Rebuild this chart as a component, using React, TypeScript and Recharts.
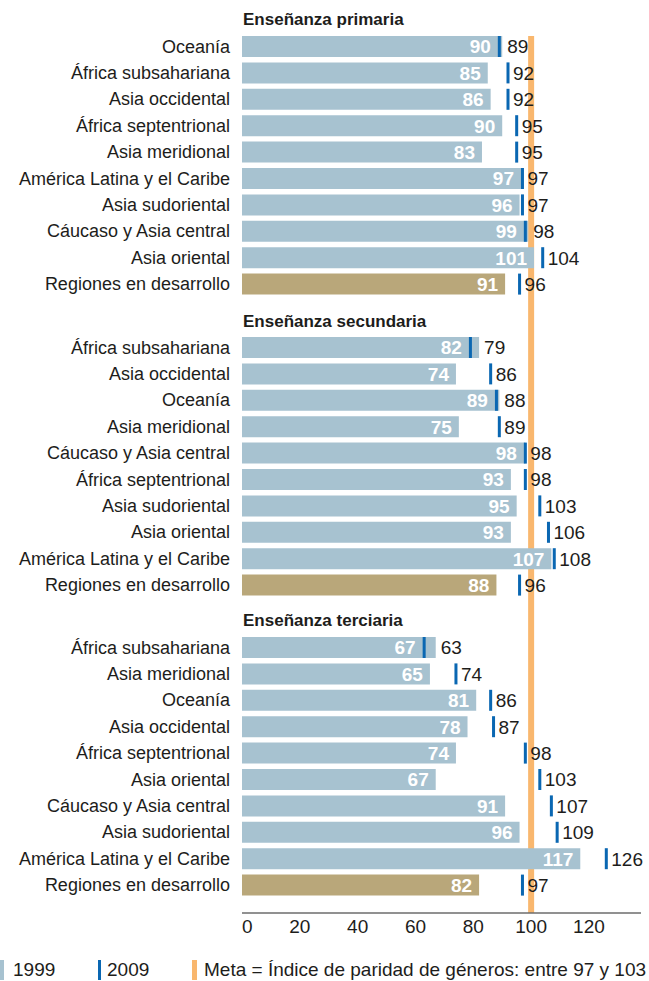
import { BarChart, Bar, XAxis, YAxis, Cell, ReferenceLine } from "recharts";

const FONT = '"Liberation Sans", Arial, sans-serif';
const INK = "#1d1d1b";
const BAR_1999 = "#a7c2d0";
const BAR_DEV = "#b9a77a";
const MARK_2009 = "#0a67b2";
const META = "#f9b76e";

// Enseñanza primaria
const primariaRegions = [
  "Oceanía",
  "África subsahariana",
  "Asia occidental",
  "África septentrional",
  "Asia meridional",
  "América Latina y el Caribe",
  "Asia sudoriental",
  "Cáucaso y Asia central",
  "Asia oriental",
  "Regiones en desarrollo",
];
const primaria1999 = [90, 85, 86, 90, 83, 97, 96, 99, 101, 91];
const primaria2009 = [89, 92, 92, 95, 95, 97, 97, 98, 104, 96];

// Enseñanza secundaria
const secundariaRegions = [
  "África subsahariana",
  "Asia occidental",
  "Oceanía",
  "Asia meridional",
  "Cáucaso y Asia central",
  "África septentrional",
  "Asia sudoriental",
  "Asia oriental",
  "América Latina y el Caribe",
  "Regiones en desarrollo",
];
const secundaria1999 = [82, 74, 89, 75, 98, 93, 95, 93, 107, 88];
const secundaria2009 = [79, 86, 88, 89, 98, 98, 103, 106, 108, 96];

// Enseñanza terciaria
const terciariaRegions = [
  "África subsahariana",
  "Asia meridional",
  "Oceanía",
  "Asia occidental",
  "África septentrional",
  "Asia oriental",
  "Cáucaso y Asia central",
  "Asia sudoriental",
  "América Latina y el Caribe",
  "Regiones en desarrollo",
];
const terciaria1999 = [67, 65, 81, 78, 74, 67, 91, 96, 117, 82];
const terciaria2009 = [63, 74, 86, 87, 98, 103, 107, 109, 126, 97];

const xTicks = [0, 20, 40, 60, 80, 100, 120];
const xDomain = [0, 138];
const metaTarget = 100;
const metaLow = 97;
const metaHigh = 103;

const CHART_W = 649;
const PLOT_LEFT = 242;
const RIGHT_MARGIN = 8;
const PANEL_H = 264;

// 2009 series: thin marker at the value, the 1999 value inside the bar
// (kept clear of the marker) and the 2009 value right of bar/marker
const MarkerShape = (props: any) => {
  const { x, y, width, height } = props;
  const entry = props.payload || props;
  if (!entry || !width) return null;
  const perUnit = width / entry.v2009;
  const markX = x + width;
  const barEnd = x + entry.v1999 * perUnit;
  const innerEnd = Math.min(barEnd, markX - 1.5) - 7;
  const labelX = x + Math.max(entry.v1999, entry.v2009) * perUnit + 5;
  const cy = y + height / 2;
  return (
    <g>
      <text
        x={innerEnd}
        y={cy}
        dy="0.36em"
        textAnchor="end"
        fontSize={19}
        fontWeight="bold"
        fontFamily={FONT}
        fill="#ffffff"
      >
        {entry.v1999}
      </text>
      <rect x={markX - 1.5} y={y} width={3} height={height} fill={MARK_2009} />
      <text x={labelX} y={cy} dy="0.36em" fontSize={19} fontFamily={FONT} fill={INK}>
        {entry.v2009}
      </text>
    </g>
  );
};

const AxisTick = ({ x, y, payload }: any) => (
  <text
    x={x}
    y={y}
    dy="0.71em"
    textAnchor={payload.value === 0 ? "start" : "middle"}
    fontSize={19}
    fontFamily={FONT}
    fill={INK}
  >
    {payload.value}
  </text>
);

function Panel({
  title,
  regions,
  v1999,
  v2009,
  top,
  titleY,
}: {
  title: string;
  regions: string[];
  v1999: number[];
  v2009: number[];
  top: number;
  titleY: number;
}) {
  const data = regions.map((region, i) => ({
    region,
    v1999: v1999[i],
    v2009: v2009[i],
  }));
  return (
    <>
      <div
        style={{
          position: "absolute",
          zIndex: 2,
          left: 243,
          top: titleY - 10,
          lineHeight: "20px",
          fontSize: 17,
          fontWeight: "bold",
          fontFamily: FONT,
          color: INK,
          whiteSpace: "nowrap",
        }}
      >
        {title}
      </div>
      <div style={{ position: "absolute", zIndex: 2, left: 0, top }}>
        <BarChart
          layout="vertical"
          width={CHART_W}
          height={PANEL_H}
          data={data}
          margin={{ top: 0, right: RIGHT_MARGIN, bottom: 0, left: 0 }}
          barSize={21}
          barGap={-21}
        >
          <XAxis type="number" domain={xDomain} hide />
          <YAxis
            type="category"
            dataKey="region"
            width={PLOT_LEFT}
            interval={0}
            tickLine={false}
            axisLine={false}
            tickSize={0}
            tickMargin={12}
            tick={{ fill: INK, fontSize: 18, fontFamily: FONT }}
          />
          <Bar dataKey="v1999" isAnimationActive={false}>
            {data.map((d, i) => (
              <Cell key={d.region} fill={i === data.length - 1 ? BAR_DEV : BAR_1999} />
            ))}
          </Bar>
          <Bar dataKey="v2009" isAnimationActive={false} shape={MarkerShape} />
        </BarChart>
      </div>
    </>
  );
}

const metaRows = [{ row: "meta", value: 0 }];

export default function App() {
  return (
    <div
      style={{
        position: "absolute",
        left: 0,
        top: 0,
        width: CHART_W,
        height: 981,
        background: "#ffffff",
        fontFamily: FONT,
        overflow: "hidden",
      }}
    >
      {/* shared x axis + meta line behind the three panels */}
      <div style={{ position: "absolute", zIndex: 1, left: 0, top: 0 }}>
        <BarChart
          layout="vertical"
          width={CHART_W}
          height={950}
          data={metaRows}
          margin={{ top: 36, right: RIGHT_MARGIN, bottom: 0, left: PLOT_LEFT }}
        >
          <XAxis
            type="number"
            domain={xDomain}
            ticks={xTicks}
            interval={0}
            height={37}
            tickLine={false}
            tickSize={0}
            tickMargin={7}
            axisLine={{ stroke: "#6d6d6d", strokeWidth: 1.5 }}
            tick={AxisTick}
          />
          <YAxis type="category" dataKey="row" hide />
          <Bar dataKey="value" fill="none" isAnimationActive={false} />
          <ReferenceLine x={metaTarget} stroke={META} strokeWidth={6} />
        </BarChart>
      </div>

      <Panel
        title="Enseñanza primaria"
        regions={primariaRegions}
        v1999={primaria1999}
        v2009={primaria2009}
        top={33}
        titleY={20}
      />
      <Panel
        title="Enseñanza secundaria"
        regions={secundariaRegions}
        v1999={secundaria1999}
        v2009={secundaria2009}
        top={334}
        titleY={322}
      />
      <Panel
        title="Enseñanza terciaria"
        regions={terciariaRegions}
        v1999={terciaria1999}
        v2009={terciaria2009}
        top={634}
        titleY={621}
      />

      {/* legend */}
      <div style={{ position: "absolute", left: 0, top: 960, width: 4, height: 20, background: BAR_1999 }} />
      <div style={{ position: "absolute", left: 13, top: 960, lineHeight: "20px", fontSize: 19, color: INK }}>
        1999
      </div>
      <div style={{ position: "absolute", left: 98, top: 960, width: 3, height: 20, background: MARK_2009 }} />
      <div style={{ position: "absolute", left: 107, top: 960, lineHeight: "20px", fontSize: 19, color: INK }}>
        2009
      </div>
      <div style={{ position: "absolute", left: 192, top: 960, width: 5, height: 20, background: META }} />
      <div
        style={{
          position: "absolute",
          left: 204,
          top: 960,
          lineHeight: "20px",
          fontSize: 19,
          color: INK,
          whiteSpace: "nowrap",
        }}
      >
        {`Meta = Índice de paridad de géneros: entre ${metaLow} y ${metaHigh}`}
      </div>
    </div>
  );
}
